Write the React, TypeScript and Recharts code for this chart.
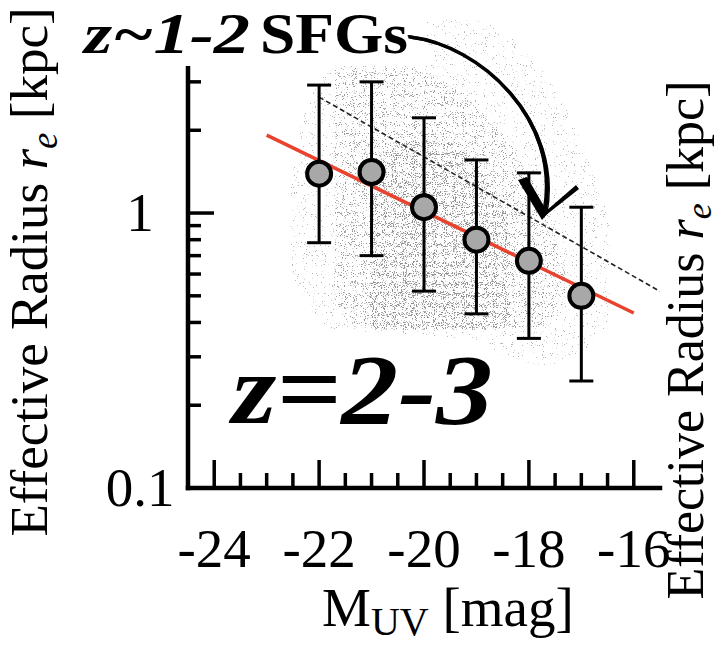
import {
  Area,
  ComposedChart,
  ErrorBar,
  Line,
  Scatter,
  XAxis,
  YAxis,
} from "recharts"

const W = 719
const H = 647
const SERIF = '"Liberation Serif", "Times New Roman", serif'

// z=2-3 binned sizes: M_UV, median r_e, lower / upper percentile (kpc)
const binMag = [-22, -21, -20, -19, -18, -17]
const binRe = [1.39, 1.41, 1.05, 0.8, 0.67, 0.5]
const binLo = [0.78, 0.7, 0.52, 0.43, 0.35, 0.245]
const binHi = [2.92, 3.0, 2.22, 1.56, 1.4, 1.05]

// best-fit size-luminosity relation at z=2-3 (red)
const fitMag = [-23, -16]
const fitRe = [1.92, 0.433]

// z~1-2 SFG relation (dashed)
const sfgMag = [-22, -15.5]
const sfgRe = [2.64, 0.519]

// envelopes of the individual galaxies (sparse halo, main cloud, dense core)
const haloMag = [-22.55, -22.27, -21.79, -21.03, -20.08, -19.12, -18.36, -17.6, -16.93, -16.45]
const haloLo = [0.62, 0.483, 0.376, 0.369, 0.36, 0.345, 0.292, 0.28, 0.318, 0.408]
const haloHi = [1.21, 2.37, 3.31, 4.26, 5.03, 5.03, 4.44, 3.05, 1.69, 0.943]

const mainMag = [-21.7, -21.22, -20.46, -19.69, -18.93, -18.17, -17.6, -17.31]
const mainLo = [0.483, 0.382, 0.376, 0.376, 0.376, 0.376, 0.408, 0.483]
const mainHi = [3.4, 3.4, 3.4, 3.05, 2.37, 1.56, 0.943, 0.62]

const coreMag = [-21.03, -20.46, -19.69, -18.93, -18.36]
const coreLo = [0.382, 0.376, 0.376, 0.376, 0.392]
const coreHi = [1.32, 1.84, 1.84, 1.43, 0.943]

const xDomain = [-24.5, -15.5]
const yDomain = [0.1, 5.34]
const xMajor = [-24, -22, -20, -18, -16]
const xTicks = [-24, -23.5, -23, -22.5, -22, -21.5, -21, -20.5, -20, -19.5, -19, -18.5, -18, -17.5, -17, -16.5, -16]
const yMajor = [0.1, 1]
const yTicks = [0.1, 0.2, 0.3, 0.4, 0.5, 0.6, 0.7, 0.8, 0.9, 1, 2, 3, 4, 5]

const bins = binMag.map((m, i) => ({
  m,
  r: binRe[i],
  err: [binRe[i] - binLo[i], binHi[i] - binRe[i]],
}))
const fit = fitMag.map((m, i) => ({ m, r: fitRe[i] }))
const sfg = sfgMag.map((m, i) => ({ m, r: sfgRe[i] }))
const band = (mags: number[], lo: number[], hi: number[]) =>
  mags.map((m, i) => ({ m, band: [lo[i], hi[i]] }))
const halo = band(haloMag, haloLo, haloHi)
const cloud = band(mainMag, mainLo, mainHi)
const core = band(coreMag, coreLo, coreHi)

const AXIS = { stroke: "#000", strokeWidth: 4.5, strokeLinecap: "square" as const }
const TICK_W = 3.5

function BottomTick({ x, y, payload }: any) {
  const major = xMajor.includes(payload.value)
  return (
    <g>
      <line x1={x} x2={x} y1={y} y2={y - (major ? 28 : 15)} stroke="#000" strokeWidth={TICK_W} />
      {major ? (
        <text x={x} y={y + 79} textAnchor="middle" fontFamily={SERIF} fontSize={55} fill="#000">
          {payload.value}
        </text>
      ) : null}
    </g>
  )
}

function TopTick({ x, y, payload }: any) {
  const major = xMajor.includes(payload.value)
  return <line x1={x} x2={x} y1={y} y2={y + (major ? 29 : 15)} stroke="#000" strokeWidth={TICK_W} />
}

function LeftTick({ x, y, payload }: any) {
  const major = yMajor.includes(payload.value)
  return (
    <g>
      <line x1={x} x2={x + (major ? 26 : 13)} y1={y} y2={y} stroke="#000" strokeWidth={TICK_W} />
      {major ? (
        <text x={x - 48} y={y + 18} textAnchor="middle" fontFamily={SERIF} fontSize={55} fill="#000">
          {payload.value}
        </text>
      ) : null}
    </g>
  )
}

function RightTick({ x, y, payload }: any) {
  const major = yMajor.includes(payload.value)
  return <line x1={x} x2={x - (major ? 27 : 13)} y1={y} y2={y} stroke="#000" strokeWidth={TICK_W} />
}

const css = `
.halo .recharts-area-area { filter: url(#speck1); }
.cloud .recharts-area-area { filter: url(#speck2); }
.core .recharts-area-area { filter: url(#speck3); }
`

// stipple texture standing in for the individual galaxies
function Speckle({ id, seed, cut, grey }: { id: string; seed: number; cut: number; grey: number }) {
  return (
    <filter id={id} x="-5%" y="-5%" width="110%" height="110%" colorInterpolationFilters="sRGB">
      <feTurbulence type="fractalNoise" baseFrequency="0.9" numOctaves={2} seed={seed} result="n" />
      <feColorMatrix
        in="n"
        type="matrix"
        values={`0 0 0 0 ${grey}  0 0 0 0 ${grey}  0 0 0 0 ${grey}  16 0 0 0 ${-16 * cut}`}
        result="d"
      />
      <feComposite in="d" in2="SourceGraphic" operator="in" />
    </filter>
  )
}

const dot = (p: any) => (
  <circle cx={p.cx} cy={p.cy} r={12} fill="#a8a8a8" stroke="#000" strokeWidth={4} />
)

const ARROW = "M410 37 C480 45, 562 120, 545 212"

export default function App() {
  return (
    <div style={{ position: "absolute", left: 0, top: 0, width: W, height: H, background: "#fff" }}>
      <style>{css}</style>
      <svg width={0} height={0} style={{ position: "absolute" }}>
        <defs>
          <Speckle id="speck1" seed={3} cut={0.69} grey={0.55} />
          <Speckle id="speck2" seed={11} cut={0.64} grey={0.56} />
          <Speckle id="speck3" seed={23} cut={0.62} grey={0.56} />
        </defs>
      </svg>

      <ComposedChart width={W} height={H} margin={{ top: 13, right: 59, bottom: 99, left: 68 }}>
        <XAxis
          xAxisId="b"
          type="number"
          dataKey="m"
          domain={xDomain}
          allowDataOverflow
          ticks={xTicks}
          interval={0}
          height={60}
          tickSize={0}
          tickMargin={0}
          tickLine={false}
          axisLine={AXIS}
          tick={BottomTick}
        />
        <XAxis
          xAxisId="t"
          orientation="top"
          type="number"
          dataKey="m"
          domain={xDomain}
          allowDataOverflow
          ticks={xTicks}
          interval={0}
          height={0}
          tickSize={0}
          tickMargin={0}
          tickLine={false}
          axisLine={AXIS}
          tick={TopTick}
        />
        <YAxis
          yAxisId="l"
          scale="log"
          type="number"
          domain={yDomain}
          allowDataOverflow
          ticks={yTicks}
          interval={0}
          width={120}
          tickSize={0}
          tickMargin={0}
          tickLine={false}
          axisLine={AXIS}
          tick={LeftTick}
        />
        <YAxis
          yAxisId="r"
          orientation="right"
          scale="log"
          type="number"
          domain={yDomain}
          allowDataOverflow
          ticks={yTicks}
          interval={0}
          width={0}
          tickSize={0}
          tickMargin={0}
          tickLine={false}
          axisLine={AXIS}
          tick={RightTick}
        />

        <Area
          xAxisId="b"
          yAxisId="l"
          data={halo}
          dataKey="band"
          type="monotone"
          stroke="none"
          fill="#000"
          fillOpacity={0.65}
          className="halo"
          isAnimationActive={false}
        />
        <Area
          xAxisId="b"
          yAxisId="l"
          data={cloud}
          dataKey="band"
          type="monotone"
          stroke="none"
          fill="#000"
          fillOpacity={0.9}
          className="cloud"
          isAnimationActive={false}
        />
        <Area
          xAxisId="b"
          yAxisId="l"
          data={core}
          dataKey="band"
          type="monotone"
          stroke="none"
          fill="#000"
          fillOpacity={1}
          className="core"
          isAnimationActive={false}
        />
        <Line
          xAxisId="b"
          yAxisId="l"
          data={sfg}
          dataKey="r"
          type="linear"
          stroke="#222"
          strokeWidth={1.6}
          strokeDasharray="5 3"
          dot={false}
          isAnimationActive={false}
        />
        <Line
          xAxisId="b"
          yAxisId="l"
          data={fit}
          dataKey="r"
          type="linear"
          stroke="#e8432f"
          strokeWidth={3.5}
          dot={false}
          isAnimationActive={false}
        />
        <Scatter
          xAxisId="b"
          yAxisId="l"
          data={bins}
          dataKey="r"
          shape={dot}
          isAnimationActive={false}
        >
          <ErrorBar dataKey="err" direction="y" width={12} stroke="#000" strokeWidth={3} />
        </Scatter>
      </ComposedChart>

      <svg
        width={W}
        height={H}
        style={{ position: "absolute", left: 0, top: 0, pointerEvents: "none" }}
        fontFamily={SERIF}
      >
        <rect x={75} y={0} width={352} height={66} fill="#fff" />
        <text x={84} y={53} fontWeight="bold" fontStyle="italic" fontSize={56} textLength={166} lengthAdjust="spacingAndGlyphs">
          z~1-2
        </text>
        <text x={260} y={53} fontWeight="bold" fontSize={56} textLength={148} lengthAdjust="spacingAndGlyphs">
          SFGs
        </text>

        {/* hand-drawn arrow towards the z~1-2 relation */}
        <g fill="none" stroke="#000" strokeLinecap="round">
          <path d={ARROW} strokeWidth={3.6} />
          <path d={ARROW} strokeWidth={1.4} transform="translate(2,1.4)" />
          <path d={ARROW} strokeWidth={1.4} transform="translate(-1.8,-1.2)" />
        </g>
        <polygon points="518,180 527,177 548,213 542,220" fill="#000" />
        <polygon points="541,219 546,211 576,185 579,189" fill="#000" />

        <text x={232} y={423} fontWeight="bold" fontStyle="italic" fontSize={100} textLength={261} lengthAdjust="spacingAndGlyphs">
          z=2-3
        </text>

        <text transform="translate(47,272) rotate(-90)" textAnchor="middle" fontSize={53}>
          Effective Radius <tspan fontStyle="italic">r</tspan>
          <tspan fontStyle="italic" fontSize={37} dy={10}>e</tspan>
          <tspan dy={-10}> [kpc]</tspan>
        </text>
        <text transform="translate(703,340) rotate(-90)" textAnchor="middle" fontSize={52}>
          Effective Radius <tspan fontStyle="italic">r</tspan>
          <tspan fontStyle="italic" fontSize={36} dy={8}>e</tspan>
          <tspan dy={-8}> [kpc]</tspan>
        </text>

        <text x={322} y={626} fontSize={55}>
          M<tspan fontSize={40} dy={9}>UV</tspan>
          <tspan dy={-9}> [mag]</tspan>
        </text>
      </svg>
    </div>
  )
}
